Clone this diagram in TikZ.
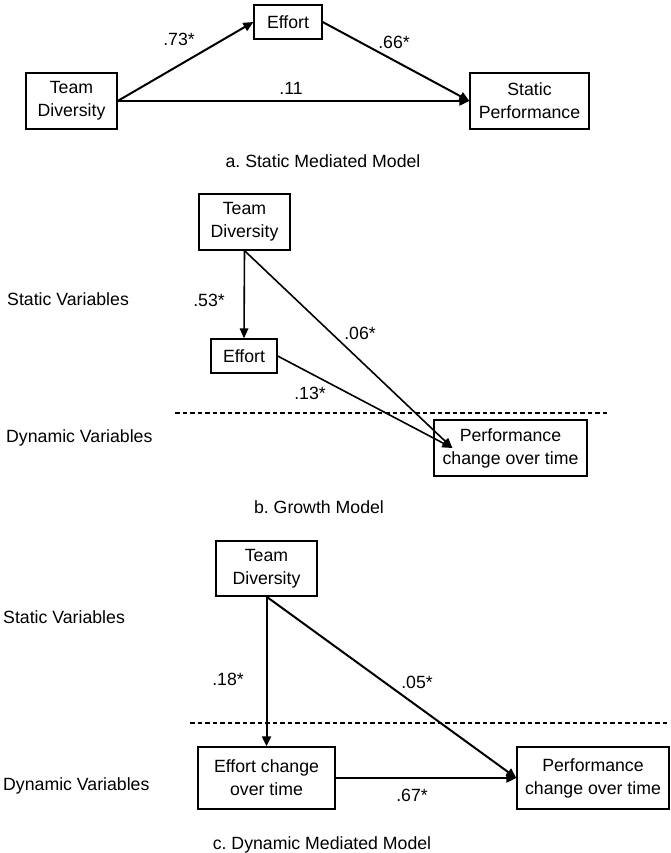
\documentclass[tikz,border=0pt]{standalone}
\usepackage{fontspec}
\setmainfont{Liberation Sans}
\usetikzlibrary{arrows.meta,calc}
\begin{document}
\begin{tikzpicture}[x=1pt,y=-1pt,
  lbl/.style={inner sep=0pt,font=\fontsize{17.7}{23}\selectfont\frenchspacing},
  box/.style={draw,line width=1.3pt,align=center,inner sep=0pt,
    font=\fontsize{17.7}{23}\selectfont},
  arr/.style={line width=2pt,-{Triangle[length=10pt,width=9pt]}},
  arrb/.style={line width=1.6pt,-{Triangle[length=10pt,width=8.5pt]}},
  sep/.style={line width=1.3pt,dash pattern=on 4.5pt off 3pt}]
\useasboundingbox (0,0) rectangle (670,853);
% ---------- panel a ----------
\node[box,minimum width=68pt,minimum height=34pt] (effA) at (288,22) {Effort};
\node[box,minimum width=91pt,minimum height=56pt] (tdA) at (71.5,101) {Team\\Diversity};
\node[box,minimum width=119pt,minimum height=56pt] (spA) at (529.5,101) {Static\\Performance};
\draw[arr] (tdA.east) -- (effA.west);
\draw[arr] (effA.east) -- (spA.west);
\draw[arr] (tdA.east) -- (spA.west);
\node[lbl] (la1) at (179,39) {.73*};
\node[lbl] (la2) at (394,42) {.66*};
\node[lbl] (la3) at (291,88) {.11};
\node[lbl,anchor=base] (capA) at (323,167.5) {a. Static Mediated Model};
% ---------- panel b ----------
\node[lbl,anchor=base west] (svB) at (7,305.5) {Static Variables};
\node[lbl,anchor=base west] (dvB) at (6,442) {Dynamic Variables};
\node[box,minimum width=91pt,minimum height=56pt] (tdB) at (244.5,222) {Team\\Diversity};
\node[box,minimum width=66pt,minimum height=34pt] (effB) at (244,356) {Effort};
\node[box,minimum width=153pt,minimum height=56pt] (pcB) at (510.5,448) {Performance\\change over time};
\coordinate (tipB) at ($(pcB.west)+(19,0)$);
\coordinate (dB1) at (175,413);
\coordinate (dB2) at (609,413);
\draw[sep] (dB1) -- (dB2);
\draw[arrb] (tdB.south) -- (effB.north);
\draw[arrb] (tdB.south) -- (tipB);
\draw[arrb] (effB.east) -- (tipB);
\node[lbl] (lb1) at (209,300) {.53*};
\node[lbl] (lb2) at (360,333) {.06*};
\node[lbl] (lb3) at (310,393) {.13*};
\node[lbl,anchor=base] (capB) at (319,513) {b. Growth Model};
% ---------- panel c ----------
\node[lbl,anchor=base west] (svC) at (3,623) {Static Variables};
\node[lbl,anchor=base west] (dvC) at (3,790.5) {Dynamic Variables};
\node[box,minimum width=101pt,minimum height=55pt] (tdC) at (266.5,568.5) {Team\\Diversity};
\node[box,minimum width=137pt,minimum height=62pt] (ecC) at (266.5,778) {Effort change\\over time};
\node[box,minimum width=152pt,minimum height=62pt] (pcC) at (593,778) {Performance\\change over time};
\coordinate (dC1) at (190,723);
\coordinate (dC2) at (670,723);
\draw[sep] (dC1) -- (dC2);
\draw[arr] (tdC.south) -- (ecC.north);
\draw[arr] (tdC.south) -- (pcC.west);
\draw[arr] (ecC.east) -- (pcC.west);
\node[lbl] (lc1) at (228,679) {.18*};
\node[lbl] (lc2) at (417,682) {.05*};
\node[lbl] (lc3) at (412,795) {.67*};
\node[lbl,anchor=base] (capC) at (322,849.5) {c. Dynamic Mediated Model};
\end{tikzpicture}
\end{document}
